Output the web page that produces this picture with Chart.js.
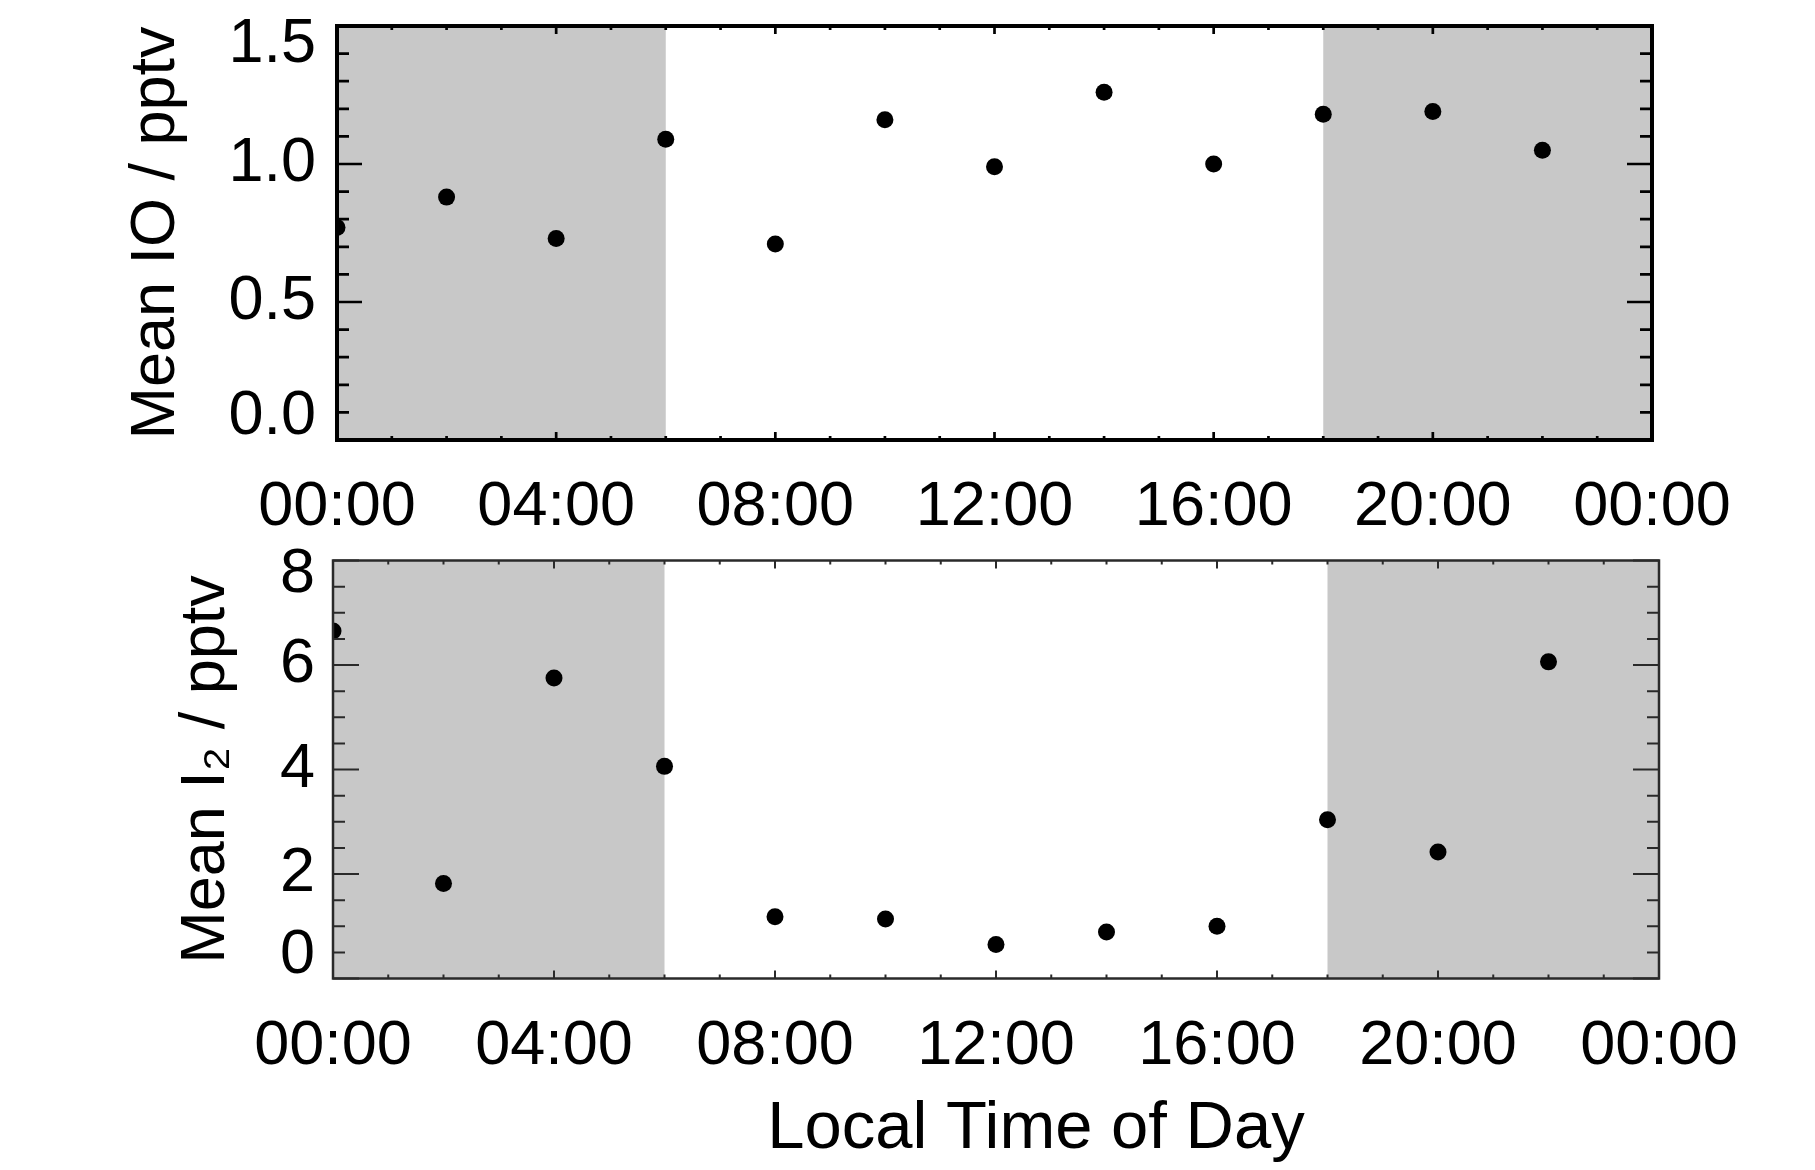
<!DOCTYPE html>
<html>
<head>
<meta charset="utf-8">
<script src="https://cdn.jsdelivr.net/npm/chart.js@4.4.1/dist/chart.umd.min.js"></script>
<style>
  html, body { margin: 0; padding: 0; background: #fff; }
  #wrap { position: relative; width: 1815px; height: 1170px; overflow: hidden; }
  canvas { position: absolute; left: 0; }
  #io-canvas { top: 0; }
  #i2-canvas { top: 545px; }
</style>
</head>
<body>
<div id="wrap">
  <canvas id="io-canvas" width="1815" height="545"></canvas>
  <canvas id="i2-canvas" width="1815" height="625"></canvas>
</div>
<script>
'use strict';

// local hour of each 2-hourly bin
var hours = [0, 2, 4, 6, 8, 10, 12, 14, 16, 18, 20, 22];
var ioValues = [0.77, 0.88, 0.73, 1.09, 0.71, 1.16, 0.99, 1.26, 1.00, 1.18, 1.19, 1.05];
var i2Values = [6.65, 1.82, 5.75, 4.06, 1.18, 1.14, 0.65, 0.89, 1.00, 3.04, 2.42, 6.06];
// night-time (shaded) spans, hours
var nightSpans = [[0, 6], [18, 24]];
var xTickLabels = ['00:00', '04:00', '08:00', '12:00', '16:00', '20:00', '00:00'];
var ioTickLabels = ['0.0', '0.5', '1.0', '1.5'];
var i2TickLabels = ['0', '2', '4', '6', '8'];

var FONT = "'Liberation Sans', Arial, Helvetica, sans-serif";

function toPoints(values) {
  return hours.map(function(h, i) { return {x: h, y: values[i]}; });
}

// grey night shading under the points, inward ticks + frame + y labels on top
var panelDecor = {
  id: 'panelDecor',
  beforeDatasetsDraw: function(chart) {
    var ctx = chart.ctx;
    var area = chart.chartArea;
    var xs = chart.scales.x;
    ctx.save();
    ctx.fillStyle = '#c8c8c8';
    nightSpans.forEach(function(span) {
      var x0 = xs.getPixelForValue(span[0]);
      var x1 = xs.getPixelForValue(span[1]);
      ctx.fillRect(x0, area.top, x1 - x0, area.bottom - area.top);
    });
    ctx.restore();
  },
  afterDraw: function(chart, args, opts) {
    var ctx = chart.ctx;
    var area = chart.chartArea;
    var xs = chart.scales.x;
    var ys = chart.scales.y;
    var v, p, len;
    ctx.save();
    ctx.strokeStyle = opts.color;
    ctx.lineWidth = opts.tickWidth;
    ctx.beginPath();
    // x ticks, every hour, longer every 4 h
    for (v = xs.min; v <= xs.max + 1e-9; v += 1) {
      p = xs.getPixelForValue(v);
      len = (v % 4 === 0) ? opts.xMajorLen : opts.xMinorLen;
      ctx.moveTo(p, area.top); ctx.lineTo(p, area.top + len);
      ctx.moveTo(p, area.bottom); ctx.lineTo(p, area.bottom - len);
    }
    // y ticks
    var nMinor = Math.round((ys.max - ys.min) / opts.yMinor);
    for (var i = 0; i <= nMinor; i++) {
      v = ys.min + i * opts.yMinor;
      p = ys.getPixelForValue(v);
      var isMajor = Math.abs(v / opts.yMajor - Math.round(v / opts.yMajor)) < 1e-6;
      len = isMajor ? opts.yMajorLen : opts.yMinorLen;
      ctx.moveTo(area.left, p); ctx.lineTo(area.left + len, p);
      ctx.moveTo(area.right, p); ctx.lineTo(area.right - len, p);
    }
    ctx.stroke();

    ctx.lineWidth = opts.frameWidth;
    ctx.strokeRect(area.left, area.top, area.right - area.left, area.bottom - area.top);

    // y tick labels, kept inside the frame at the ends
    ctx.fillStyle = '#000';
    ctx.font = opts.labelSize + 'px ' + FONT;
    ctx.textAlign = 'right';
    ctx.textBaseline = 'middle';
    opts.yLabels.forEach(function(label) {
      var y = ys.getPixelForValue(parseFloat(label));
      y = Math.max(area.top + opts.topInset, Math.min(area.bottom - opts.bottomInset, y));
      ctx.fillText(label, area.left - opts.labelGap, y);
    });

    if (opts.xTitle) {
      ctx.font = opts.xTitle.size + 'px ' + FONT;
      ctx.textAlign = 'center';
      ctx.textBaseline = 'alphabetic';
      ctx.fillText(opts.xTitle.text, opts.xTitle.x, opts.xTitle.y);
    }
    ctx.restore();
  }
};

function makePanel(canvasId, values, cfg) {
  var context = document.getElementById(canvasId).getContext('2d');
  return new Chart(context, {
    type: 'scatter',
    data: {
      datasets: [{
        data: toPoints(values),
        backgroundColor: '#000',
        borderWidth: 0,
        pointRadius: 8.5,
        pointHoverRadius: 8.5,
        clip: 0
      }]
    },
    options: {
      responsive: false,
      animation: false,
      events: [],
      layout: {padding: {top: cfg.top, right: cfg.right, left: 0, bottom: 0}},
      plugins: {
        legend: {display: false},
        tooltip: {enabled: false},
        panelDecor: cfg.decor
      },
      scales: {
        x: {
          type: 'linear',
          min: 0,
          max: 24,
          grid: {display: false},
          border: {display: false},
          ticks: {
            stepSize: 4,
            maxRotation: 0,
            autoSkip: false,
            padding: cfg.xLabelPad,
            color: '#000',
            font: {family: FONT, size: 63},
            callback: function(value, index) { return xTickLabels[index]; }
          },
          afterFit: function(scale) { scale.height = cfg.xAxisHeight; }
        },
        y: {
          type: 'linear',
          min: cfg.yMin,
          max: cfg.yMax,
          grid: {display: false},
          border: {display: false},
          ticks: {display: false},
          title: {
            display: true,
            text: cfg.yTitle,
            color: '#000',
            font: {family: FONT, size: 63},
            padding: {top: cfg.yTitlePad, bottom: 0}
          },
          afterFit: function(scale) { scale.width = cfg.left; }
        }
      }
    },
    plugins: [panelDecor]
  });
}

makePanel('io-canvas', ioValues, {
  top: 26, right: 163, left: 337, xAxisHeight: 105, xLabelPad: 22,
  yMin: 0, yMax: 1.5, yTitle: 'Mean IO / pptv', yTitlePad: 119,
  decor: {
    color: '#000', frameWidth: 4, tickWidth: 2.7,
    xMinorLen: 4, xMajorLen: 8, yMinor: 0.1, yMajor: 0.5, yMinorLen: 12, yMajorLen: 25,
    yLabels: ioTickLabels, labelSize: 63, labelGap: 21, topInset: 19, bottomInset: 23
  }
});

makePanel('i2-canvas', i2Values, {
  top: 15.5, right: 156, left: 333, xAxisHeight: 191.5, xLabelPad: 22,
  yMin: 0, yMax: 8, yTitle: 'Mean I\u2082 / pptv', yTitlePad: 169,
  decor: {
    color: '#2a2a2a', frameWidth: 2.5, tickWidth: 2,
    xMinorLen: 4, xMajorLen: 8, yMinor: 0.5, yMajor: 2, yMinorLen: 12, yMajorLen: 26,
    yLabels: i2TickLabels, labelSize: 63, labelGap: 18, topInset: 14, bottomInset: 23,
    xTitle: {text: 'Local Time of Day', size: 67, x: 1036, y: 603}
  }
});
</script>
</body>
</html>
